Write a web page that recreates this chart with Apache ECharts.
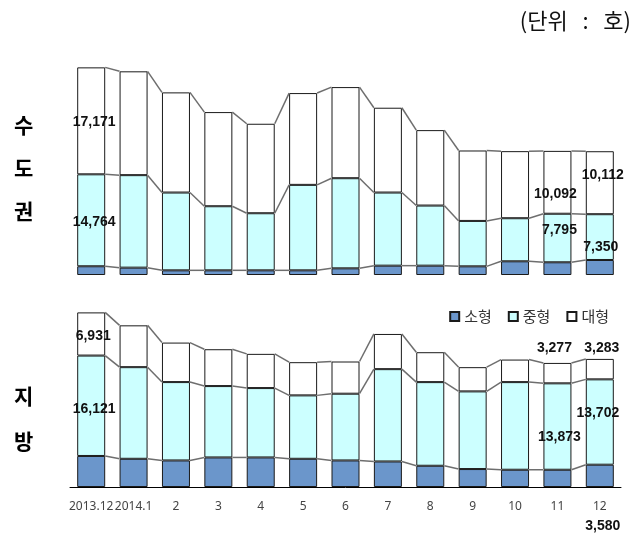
<!DOCTYPE html>
<html><head><meta charset="utf-8">
<script src="https://cdn.jsdelivr.net/npm/echarts@6/dist/echarts.min.js"></script>
<style>html,body{margin:0;padding:0;background:#fff}#c{width:644px;height:533px}</style>
</head><body><div id="c"></div>
<script>
const categories = ['2013.12','2014.1','2','3','4','5','6','7','8','9','10','11','12'];
const seriesNames = ['소형','중형','대형'];
// 수도권
const capSmall = [1400,1180,750,750,750,750,1070,1500,1500,1390,2200,2040,2410];
const capMid   = [14764,14850,12490,10290,9166,13720,14470,11740,9650,7290,6915,7795,7350];
const capLarge = [17171,16670,16080,15115,14365,14740,14630,13615,12110,11310,10770,10092,10112];
// 지방
const locSmall = [4980,4530,4264,4744,4744,4530,4264,4100,3410,2880,2770,2770,3580];
const locMid   = [16121,14710,12580,11460,11140,10180,10713,14820,13430,12470,14070,13873,13702];
const locLarge = [6931,6716,6343,5916,5490,5330,5170,5650,4800,3890,3620,3277,3283];

// which values are labelled (panel, series index, category index) and label offsets
const labelSpec = [
  {p:0, s:2, i:0, off:[3,1]},
  {p:0, s:1, i:0, off:[3,2]},
  {p:0, s:2, i:11, off:[-2,12]},
  {p:0, s:2, i:12, off:[3,-8]},
  {p:0, s:1, i:11, off:[2,-8]},
  {p:0, s:1, i:12, off:[1,10]},
  {p:1, s:2, i:0, off:[2,2]},
  {p:1, s:1, i:0, off:[3,3]},
  {p:1, s:2, i:11, off:[-3,-25]},
  {p:1, s:2, i:12, off:[2,-21]},
  {p:1, s:1, i:12, off:[-2,-9]},
  {p:1, s:1, i:11, off:[2,11]},
  {p:1, s:0, i:12, off:[3,50]}
];

const colors = ['#6b96cb','#ccffff','#ffffff'];
const BAR_W = 28;
const panels = [[capSmall,capMid,capLarge],[locSmall,locMid,locLarge]];
const fmt = v => v.toLocaleString('en-US');

const series = [];
panels.forEach((arrs, p) => {
  arrs.forEach((arr, s) => {
    const data = arr.map((v, i) => {
      const spec = labelSpec.find(l => l.p === p && l.s === s && l.i === i);
      if (!spec) return v;
      return {value: v, label: {show: true, position: 'inside', offset: spec.off,
        formatter: () => fmt(v), fontSize: 14, fontWeight: 'bold', color: '#111',
        fontFamily: 'Liberation Sans'}};
    });
    series.push({
      type: 'bar', name: seriesNames[s], stack: 'p' + p, xAxisIndex: p, yAxisIndex: p,
      barWidth: BAR_W, data: data,
      itemStyle: {color: colors[s], borderColor: '#1a1a1a', borderWidth: 1},
      emphasis: {disabled: true}, animation: false
    });
  });
  // connector lines between stack levels
  let cum = categories.map(() => 0);
  arrs.forEach((arr) => {
    cum = cum.map((c, i) => c + arr[i]);
    const c2 = cum.slice();
    const conn = [];
    for (let i = 0; i < categories.length - 1; i++) conn.push([i, c2[i], c2[i + 1]]);
    series.push({
      type: 'custom', xAxisIndex: p, yAxisIndex: p, z: 5, silent: true, animation: false,
      data: conn,
      renderItem: (params, api) => {
        const i = api.value(0);
        const a = api.coord([i, api.value(1)]);
        const b = api.coord([i + 1, api.value(2)]);
        return {type: 'line', shape: {x1: a[0] + BAR_W / 2, y1: a[1], x2: b[0] - BAR_W / 2, y2: b[1]},
          style: {stroke: '#6e6e6e', lineWidth: 1.5}};
      }
    });
  });
});

const chart = echarts.init(document.getElementById('c'), null, {renderer: 'canvas'});
chart.setOption({
  backgroundColor: '#fff',
  animation: false,
  grid: [
    {left: 70, right: 23, top: 57, height: 218},
    {left: 70, right: 23, top: 269, height: 218}
  ],
  xAxis: [
    {type: 'category', gridIndex: 0, data: categories, axisLine: {show: false}, axisTick: {show: false}, axisLabel: {show: false}},
    {type: 'category', gridIndex: 1, data: categories,
      axisLine: {lineStyle: {color: '#000', width: 1}},
      axisTick: {inside: true, length: 4, lineStyle: {color: '#000'}},
      axisLabel: {interval: 0, fontSize: 12, color: '#444', margin: 14, fontFamily: 'Noto Sans'}}
  ],
  yAxis: [
    {type: 'value', gridIndex: 0, min: 0, max: 35000, show: false, splitLine: {show: false}},
    {type: 'value', gridIndex: 1, min: 0, max: 35000, show: false, splitLine: {show: false}}
  ],
  legend: {
    data: seriesNames, top: 304, right: 30, icon: 'rect', itemWidth: 9, itemHeight: 9, itemGap: 16,
    textStyle: {fontSize: 15, color: '#333', fontFamily: 'Noto Sans CJK KR'}
  },
  graphic: [
    {type: 'text', right: 13, top: 10, style: {text: '(단위   :   호)', fontSize: 22, fill: '#111', fontFamily: 'Noto Sans CJK KR'}},
    {type: 'text', left: 14, top: 104, style: {text: '수\n도\n권', fontSize: 21, fontWeight: 'bold', lineHeight: 43, fill: '#000', fontFamily: 'Noto Sans CJK KR', align: 'center'}},
    {type: 'text', left: 14, top: 374, style: {text: '지\n방', fontSize: 21, fontWeight: 'bold', lineHeight: 45, fill: '#000', fontFamily: 'Noto Sans CJK KR', align: 'center'}}
  ],
  series: series
});
</script></body></html>
